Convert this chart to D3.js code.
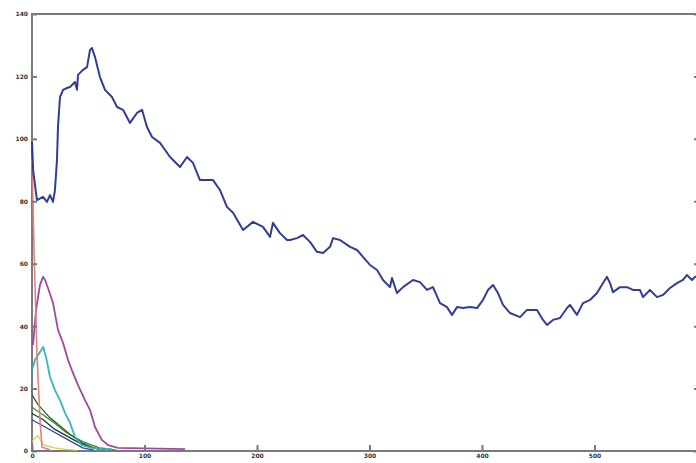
<!DOCTYPE html>
<html><head><meta charset="utf-8">
<script src="https://cdn.jsdelivr.net/npm/d3@7"></script>
<style>html,body{margin:0;padding:0;background:#fff;overflow:hidden}svg{display:block}</style>
</head><body><svg id="c" width="696" height="463"></svg>
<script>
const xTicks = [0,100,200,300,400,500,600];
const xTickLabels = ["0","100","200","300","400","500",""];
const yTicks = [0,20,40,60,80,100,120,140];

const blueX = [0,1,4.4,9.8,13.3,16,18.7,20.4,22.2,23.1,24.9,27.6,31.1,33.8,38.2,40,40.9,45.3,48.9,51.6,53.3,56,60.4,64.9,71.1,75.6,80.9,87.1,93.3,97.8,102.2,106.7,113.8,122.7,131.6,137.8,143.1,149.3,160.9,167.1,173.3,178.7,187.6,196.4,205.3,211.6,214.2,220.4,226.7,229.3,235.6,240.9,247.1,253.3,258.7,264.9,267.6,273.8,282.7,288.9,294.2,300.4,306.7,312,318.2,320,324.4,329.8,338.7,344.9,351.1,356.4,362.7,368.9,373.3,377.8,383.1,389.3,395.6,400.9,405.3,409.8,414.2,418.7,424.9,433.8,440,448.9,454.2,457.8,463.1,469.3,475.6,478.2,484.4,489.8,496,502.2,507.6,511.1,513.8,516.4,522.7,528.9,534.2,540.4,543.1,549.3,555.6,560.9,567.1,573.3,578.7,582.2,586.7,589.3,600];
const blueY = [99,90,80.4,81.4,79.8,82,79.8,83.6,93.2,103.8,113.4,115.7,116.3,116.6,118.2,115.7,120.5,122.1,123,128.5,129.1,126.2,119.8,115.7,113.4,110.2,109.3,105.1,108.3,109.3,103.8,100.6,98.7,94.2,91,94.2,92.3,86.8,86.8,83.6,78.2,76.3,70.8,73.4,71.8,68.6,73.1,69.8,67.6,67.6,68.2,69.2,67,63.8,63.4,65.4,68.2,67.6,65.4,64.4,62.2,59.6,58,54.8,52.5,55.4,50.6,52.5,54.8,54.1,51.6,52.5,47.4,46.1,43.6,46.1,45.8,46.1,45.8,48.4,51.6,53.2,50.6,46.8,44.2,42.9,45.2,45.2,42,40.4,42,42.6,45.8,46.8,43.6,47.4,48.4,50.6,53.8,55.8,53.8,50.9,52.5,52.5,51.6,51.6,49.3,51.6,49.3,50,52.2,53.8,54.8,56.4,54.8,55.8,56];

const redX = [0,1.8,4.4,7.1,8.9,16];
const redY = [94.2,64.4,31.4,9.9,1.3,0.3];

const magentaX = [0.9,3.6,7.1,9.8,11.6,14.2,18.7,23.1,27.6,32,36.4,40.9,47.1,51.6,56,62.2,67.6,76.4,136];
const magentaY = [34,45.2,53.2,55.8,54.8,52.2,47.4,38.8,34.6,29.2,25,21.1,16.3,13.1,7.7,3.5,1.9,1,0.6];

const cyanX = [0,2.7,7.1,10,13,16,20.4,24.9,29.3,33.8,38.2,44.2,53,70.8];
const cyanY = [26,29.2,31.7,33.3,29.2,23.7,19.5,16.3,12.2,9,4.5,1.9,1,0.6];

const green1X = [0,5,15,25,35,45,55,65];
const green1Y = [18,15,11,8,5,2.5,1,0.5];
const green2X = [0,8,20,30,45,60,75];
const green2Y = [14,12,9,6,3,1,0.3];
const blackX = [0,10,20,30,40,50,60];
const blackY = [12,10,7,5,3,1.5,0.5];
const navyX = [0,10,25,35,45,55];
const navyY = [10,8,5,3,1,0.3];
const yellowX = [0,5,10,20,30,40];
const yellowY = [3,5,2,1,0.5,0.2];

const series = [
  {x: yellowX, y: yellowY, c: "#d8cc40", w: 1.3},
  {x: navyX, y: navyY, c: "#2c3c9c", w: 1.3},
  {x: blackX, y: blackY, c: "#1a2a1a", w: 1.3},
  {x: green2X, y: green2Y, c: "#2f8a2f", w: 1.3},
  {x: green1X, y: green1Y, c: "#1d5e26", w: 1.3},
  {x: cyanX, y: cyanY, c: "#2bb3b6", w: 1.8},
  {x: magentaX, y: magentaY, c: "#983f98", w: 1.8},
  {x: redX, y: redY, c: "#e07a78", w: 1.6},
  {x: blueX, y: blueY, c: "#26348e", w: 2}
];

const svg = d3.select("#c");
const L = 32, T = 14, R = 707, B = 451;
const x = d3.scaleLinear().domain([0,600]).range([L,R]);
const y = d3.scaleLinear().domain([0,140]).range([B,T]);

const axisCol = "#7a7a7a";
svg.append("rect").attr("x",L).attr("y",T).attr("width",R-L).attr("height",B-T)
  .attr("fill","none").attr("stroke",axisCol).attr("stroke-width",2);

const lineGen = d3.line().x(d=>x(d[0])).y(d=>y(d[1]));
series.forEach(s=>{
  svg.append("path").datum(s.x.map((v,i)=>[v,s.y[i]]))
    .attr("d",lineGen).attr("fill","none").attr("stroke",s.c)
    .attr("stroke-width",s.w).attr("stroke-linejoin","round").attr("opacity",0.95);
});

const gx = svg.append("g").attr("transform",`translate(0,${B})`)
  .call(d3.axisBottom(x).tickValues(xTicks).tickSize(-6).tickPadding(3)
    .tickFormat((d,i)=>xTickLabels[i]));
const gy = svg.append("g").attr("transform",`translate(${L},0)`)
  .call(d3.axisLeft(y).tickValues(yTicks).tickSize(-5).tickPadding(4));
const gr = svg.append("g").attr("transform",`translate(${R},0)`)
  .call(d3.axisRight(y).tickValues(yTicks).tickSize(-13).tickFormat(""));
[gx,gy,gr].forEach(g=>{
  g.select(".domain").remove();
  g.selectAll(".tick line").attr("stroke",axisCol).attr("stroke-width",2);
  g.selectAll("text").attr("fill","#333").style("font-size","6px").style("font-weight","bold").style("font-family","DejaVu Sans");
});
</script></body></html>
